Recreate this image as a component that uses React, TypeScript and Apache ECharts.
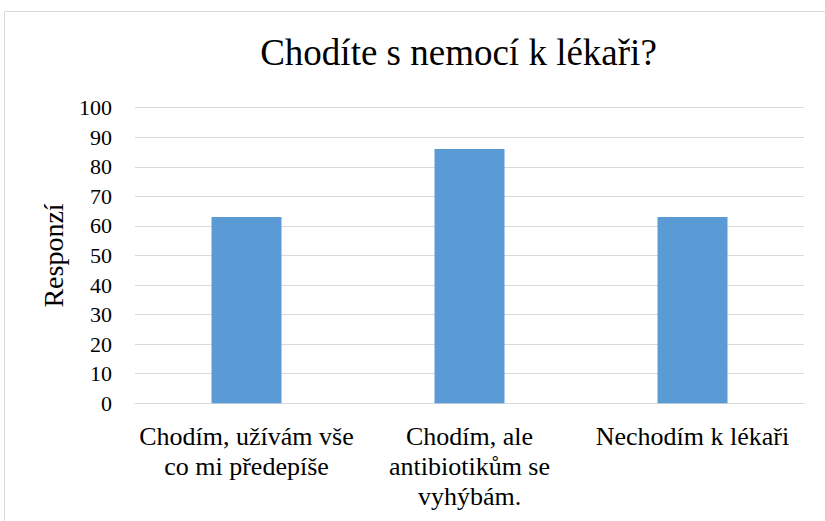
import React, { useEffect, useRef } from "react";
import * as echarts from "echarts";

const TITLE = "Chodíte s nemocí k lékaři?";
const Y_NAME = "Responzí";
const categories = [
  "Chodím, užívám vše\nco mi předepíše",
  "Chodím, ale\nantibiotikům se\nvyhýbám.",
  "Nechodím k lékaři",
];
const values = [63, 86, 63];
const yTicks = { min: 0, max: 100, interval: 10 };

const FONT = "Liberation Serif";

export default function App() {
  const ref = useRef<HTMLDivElement>(null);
  useEffect(() => {
    if (!ref.current) return;
    const chart = echarts.init(ref.current, null, { renderer: "svg" });
    chart.setOption({
      animation: false,
      backgroundColor: "#ffffff",
      graphic: [
        {
          type: "rect",
          shape: { x: 4.5, y: 11.5, width: 840, height: 540 },
          style: { fill: "none", stroke: "#d9d9d9", lineWidth: 1 },
          silent: true,
        },
        {
          type: "text",
          x: 458.5,
          y: 34,
          style: {
            text: TITLE,
            fontFamily: FONT,
            fontSize: 37,
            fill: "#000000",
            align: "center",
            verticalAlign: "top",
          },
        },
      ],
      grid: { left: 135, right: 21, top: 107.7, bottom: 117.7, containLabel: false },
      xAxis: {
        type: "category",
        data: categories,
        axisLine: { show: true, lineStyle: { color: "#d9d9d9", width: 1 } },
        axisTick: { show: false },
        axisLabel: {
          color: "#000000",
          fontFamily: FONT,
          fontSize: 26,
          lineHeight: 30,
          margin: 18,
          interval: 0,
        },
      },
      yAxis: {
        type: "value",
        min: yTicks.min,
        max: yTicks.max,
        interval: yTicks.interval,
        name: Y_NAME,
        nameLocation: "middle",
        nameGap: 68,
        nameRotate: 90,
        nameTextStyle: { color: "#000000", fontFamily: FONT, fontSize: 28 },
        axisLine: { show: false },
        axisTick: { show: false },
        axisLabel: { color: "#000000", fontFamily: FONT, fontSize: 22, margin: 23 },
        splitLine: { lineStyle: { color: "#d9d9d9", width: 1 } },
      },
      series: [
        {
          type: "bar",
          data: values,
          barWidth: 70,
          itemStyle: { color: "#5b9bd5" },
        },
      ],
    });
    return () => chart.dispose();
  }, []);
  return (
    <div
      ref={ref}
      style={{ position: "fixed", left: 0, top: 0, width: 825, height: 521 }}
    />
  );
}
